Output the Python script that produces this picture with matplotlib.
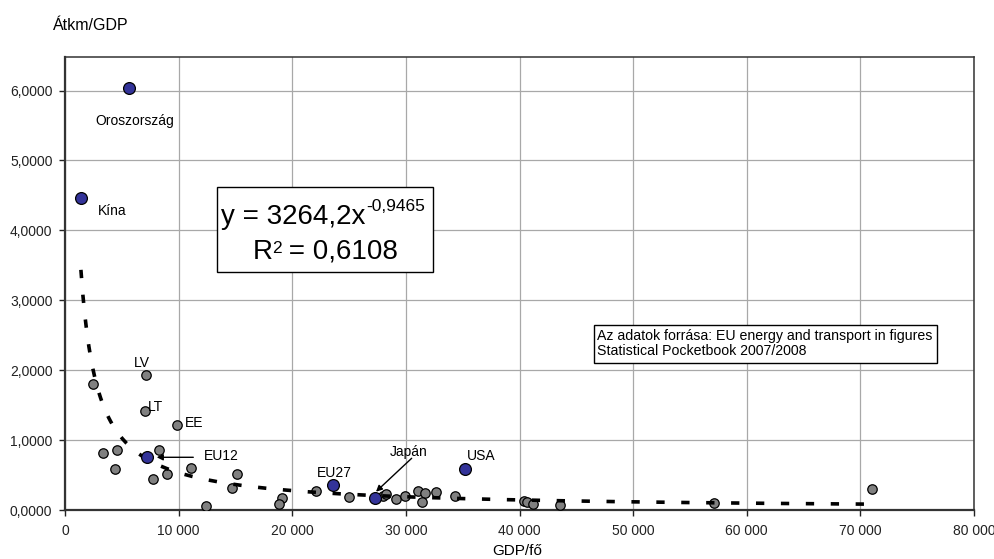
import numpy as np
import matplotlib.pyplot as plt
from matplotlib.patches import Rectangle
from matplotlib.ticker import FuncFormatter

plt.rcParams['font.family'] = ['Liberation Sans', 'DejaVu Sans']

# szürke pontok: országok (GDP/fő, Átkm/GDP)
gray_x = [2485, 7170, 7050, 9890, 3310, 4565, 8280, 4390, 7750, 8955, 11120,
          15160, 14660, 12440, 19140, 18820, 22070, 24970, 27980, 28270, 29090,
          29910, 31080, 31670, 31430, 32660, 34350, 40410, 40620, 41150, 43550,
          57130, 71000]
gray_y = [1.80, 1.934, 1.42, 1.21, 0.81, 0.86, 0.86, 0.583, 0.444, 0.51, 0.606,
          0.51, 0.315, 0.057, 0.172, 0.086, 0.277, 0.181, 0.20, 0.23, 0.162,
          0.205, 0.277, 0.248, 0.115, 0.262, 0.205, 0.133, 0.11, 0.082, 0.067,
          0.105, 0.297]

# kék pontok: kiemelt országok / régiók
blue_names = ['Oroszország', 'Kína', 'EU12', 'EU27', 'Japán', 'USA']
blue_x = [5590, 1400, 7260, 23560, 27280, 35180]
blue_y = [6.04, 4.47, 0.755, 0.358, 0.167, 0.587]

# trendvonal: y = 3264,2 * x^-0,9465
a, b = 3264.2, -0.9465
tx = np.linspace(1400, 71000, 400)
ty = a * tx ** b

W, H = 995, 559
fig = plt.figure(figsize=(9.95, 5.59), dpi=100)
ax = fig.add_axes([65/W, 1-510/H, 909/W, 453/H])

ax.plot(gray_x, gray_y, 'o', ms=6.8, mfc='#808080', mec='black', mew=0.9, zorder=3)
ax.plot(tx, ty, color='black', lw=2.6, ls=(0, (2.3, 4.6)), zorder=4)
ax.plot(blue_x, blue_y, 'o', ms=8.5, mfc='#333399', mec='black', mew=0.9, zorder=5)

ax.set_xlim(0, 80000)
ax.set_ylim(0, 6.48)
ax.set_xticks(range(0, 80001, 10000))
ax.set_yticks(range(0, 7))
ax.xaxis.set_major_formatter(FuncFormatter(lambda v, p: f"{v:,.0f}".replace(',', ' ')))
ax.yaxis.set_major_formatter(FuncFormatter(lambda v, p: f"{v:.4f}".replace('.', ',')))
ax.tick_params(labelsize=10, length=4, width=1, direction='out', pad=5, colors='#222222')
ax.tick_params(axis='x', pad=6)
ax.grid(True, color='#a8a8a8', lw=0.9)
ax.set_axisbelow(True)
for s in ['left', 'bottom']:
    ax.spines[s].set_linewidth(1.6)
    ax.spines[s].set_color('#333333')
for s in ['top', 'right']:
    ax.spines[s].set_linewidth(1.1)
    ax.spines[s].set_color('#333333')

# címkék
ax.text(2640, 5.565, 'Oroszország', fontsize=10, va='center', ha='left')
ax.text(2900, 4.28, 'Kína', fontsize=10, va='center', ha='left')
ax.text(6070, 2.10, 'LV', fontsize=10, va='center', ha='left')
ax.text(7300, 1.47, 'LT', fontsize=10, va='center', ha='left')
ax.text(10560, 1.245, 'EE', fontsize=10, va='center', ha='left')
ax.text(22180, 0.53, 'EU27', fontsize=10, va='center', ha='left')
ax.text(35380, 0.773, 'USA', fontsize=10, va='center', ha='left')
ax.annotate('', xy=(8070, 0.754), xytext=(11290, 0.754),
            arrowprops=dict(arrowstyle='-|>', color='black', lw=1,
                            mutation_scale=9, shrinkA=0, shrinkB=0))
ax.text(12230, 0.773, 'EU12', fontsize=10, va='center', ha='left')
ax.annotate('', xy=(27370, 0.262), xytext=(30510, 0.74),
            arrowprops=dict(arrowstyle='-|>', color='black', lw=1,
                            mutation_scale=9, shrinkA=0, shrinkB=0))
ax.text(30280, 0.83, 'Japán', fontsize=10, va='center', ha='center')

# egyenlet doboz
fig.patches.append(Rectangle((217/W, 1-272/H), 216/W, 85/H,
                             transform=fig.transFigure, fill=True, fc='white',
                             ec='black', lw=1, zorder=10))
renderer = fig.canvas.get_renderer()


def put(x, y, s, size):
    t = fig.text(x/W, 1-y/H, s, fontsize=size, ha='left', va='baseline', zorder=11)
    return t.get_window_extent(renderer).x1


x1 = put(221, 224, 'y = 3264,2x', 20)
put(x1 + 1, 211, '-0,9465', 12.5)
x1 = put(253, 259, 'R', 20)
x1 = put(x1 - 1, 253, '2', 12.5)
put(x1 - 1, 259, ' = 0,6108', 20)

# forrás doboz
fig.patches.append(Rectangle((594/W, 1-363/H), 343/W, 38/H,
                             transform=fig.transFigure, fill=True, fc='white',
                             ec='black', lw=1, zorder=10))
fig.text(597/W, 1-336/H, 'Az adatok forrása: EU energy and transport in figures',
         fontsize=10.2, ha='left', va='center', zorder=11)
fig.text(597/W, 1-351/H, 'Statistical Pocketbook 2007/2008',
         fontsize=10.2, ha='left', va='center', zorder=11)

fig.text(53/W, 1-30/H, 'Átkm/GDP', fontsize=11.5, ha='left', va='baseline')
fig.text(517/W, 1-551/H, 'GDP/fő', fontsize=11, ha='center', va='center')

fig.savefig('out.png', dpi=100)
